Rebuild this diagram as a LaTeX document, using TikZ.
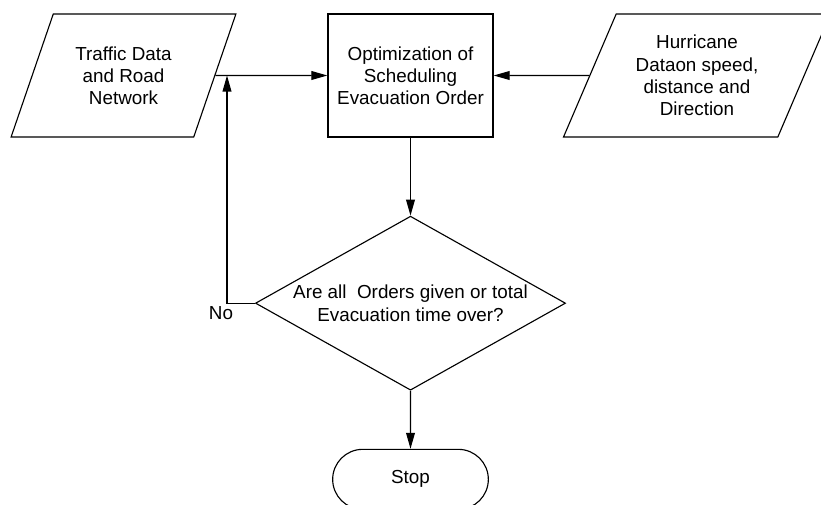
\documentclass[tikz,border=0pt]{standalone}
\usepackage{fontspec}
\setmainfont{Liberation Sans}
\usetikzlibrary{positioning,arrows.meta,shapes.geometric,shapes.misc}

\begin{document}
\begin{tikzpicture}[
  x=0.025cm, y=-0.025cm,
  node distance=1.95cm,
  base/.style={draw=black, line width=0.8pt, align=center,
               font=\fontsize{13.4}{15.8}\selectfont},
  io/.style={base, trapezium, trapezium left angle=63.6,
             trapezium right angle=116.4, trapezium stretches=true,
             minimum height=3.075cm, inner sep=0pt},
  proc/.style={base, rectangle, minimum width=4.125cm, minimum height=3.075cm},
  decision/.style={base, diamond, aspect=1.78, inner sep=0pt,
                   minimum width=7.75cm, minimum height=4.35cm},
  term/.style={base, rounded rectangle, minimum width=4.125cm,
               minimum height=1.5cm},
  arr/.style={-{Triangle[length=0.4cm,width=0.22cm]}, line width=0.8pt}
]
\useasboundingbox (0,0) rectangle (821,505);
\node[proc] (opt) at (410.5,75.5) {Optimization of\\Scheduling\\Evacuation Order};
\node[io, minimum width=5.625cm] (traffic) at (123.5,75.5) {Traffic Data\\and Road\\Network};
\node[io, minimum width=6.675cm] (hurr) at (697,75.5) {Hurricane\\Dataon speed,\\distance and\\Direction};
\node[decision, below=of opt] (check) {Are all\ \ Orders given or total\\Evacuation time over?};
\node[term, below=1.45cm of check] (stop) {Stop};
\coordinate (join) at (227,75.5);
\node[base, draw=none] (no) at (221,313) {No};
\draw[arr] (traffic.east) -- (opt.west);
\draw[arr] (hurr.west) -- (opt.east);
\draw[arr] (opt) -- (check);
\draw[arr] (check) -- (stop);
\draw[arr] (check.west) -| (join);
\end{tikzpicture}
\end{document}
